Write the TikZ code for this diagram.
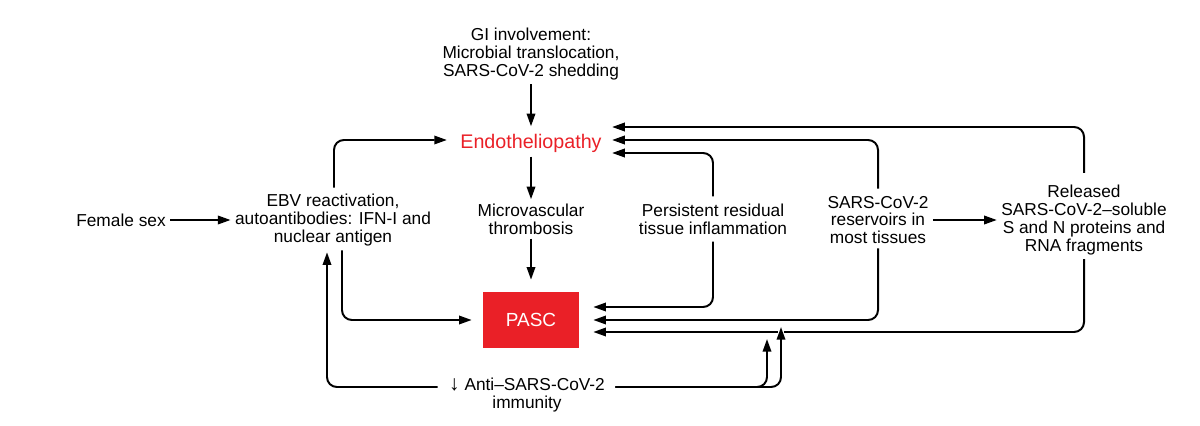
\documentclass[tikz,border=0pt]{standalone}
\usepackage{fontspec}
\setmainfont{Liberation Sans}
\usetikzlibrary{arrows.meta,calc}
\definecolor{pascred}{RGB}{234,32,39}

\begin{document}
\begin{tikzpicture}[x=0.025cm,y=-0.025cm,
  lbl/.style={align=center,font=\fontsize{12.3}{12.6}\selectfont,inner sep=3pt},
  arr/.style={-{Triangle[length=9pt,width=6pt]},line width=1.4pt,rounded corners=7pt}]
\useasboundingbox (0,0) rectangle (1200,426);

% Middle column
\node[lbl] (gi) at (531,54) {GI involvement:\\Microbial translocation,\\SARS-CoV-2 shedding};
\node[lbl,text=pascred,font=\fontsize{14}{16}\selectfont] (endo) at (531,143) {Endotheliopathy};
\node[lbl] (micro) at (531,219) {Microvascular\\thrombosis};
\node[fill=pascred,text=white,minimum width=2.4cm,minimum height=1.4cm,
  font=\fontsize{13.5}{14}\selectfont] (pasc) at (531,320) {PASC};

% Left side
\node[lbl] (female) at (121,220) {Female sex};
\node[lbl] (ebv) at (333,220) {EBV reactivation,\\autoantibodies: IFN-I and\\nuclear antigen};
\node[lbl] (imm) at (527,395) {{\fontsize{15}{15}\selectfont↓} Anti–SARS-CoV-2\\immunity};

% Right side
\node[lbl] (persist) at (713,219) {Persistent residual\\tissue inflammation};
\node[lbl] (reserv) at (878,220) {SARS-CoV-2\\reservoirs in\\most tissues};
\node[lbl] (released) at (1084,220) {Released\\SARS-CoV-2–soluble\\S and N proteins and\\RNA fragments};

% Free ends below PASC
\coordinate (upA) at (767,339);
\coordinate (upB) at (781,327);

% Arrows
\draw[arr] (gi) -- ($(endo.north)+(0,-3)$);
\draw[arr] (endo) -- (micro);
\draw[arr] (micro) -- ($(pasc.north)+(0,-12)$);
\draw[arr] (female) -- (ebv);
\draw[arr] ($(ebv.north)+(1,-2)$) |- ($(endo.west)+(-9,-3)$);
\draw[arr] ($(ebv.south)+(9,0)$) |- ($(pasc.west)+(-11,0)$);
\draw[arr] ($(imm.west)+(-7,-8)$) -| ($(ebv.south)+(-6,2)$);
\draw[arr] ($(persist.north)+(0,-3)$) |- ($(endo.east)+(6,10)$);
\draw[arr] ($(persist.south)+(0,3)$) |- ($(pasc.east)+(14,-13)$);
\draw[arr] ($(reserv.north)+(0,-3)$) |- ($(endo.east)+(6,-3)$);
\draw[arr] (reserv.south) |- ($(pasc.east)+(14,0)$);
\draw[arr] (reserv) -- (released);
\draw[arr] ($(released.north)+(0,-8)$) |- ($(endo.east)+(6,-16)$);
\draw[arr] (released.south) |- ($(pasc.east)+(14,12)$);
\draw[arr,preaction={draw=white,line width=4pt,-}] ($(imm.east)+(6,-8)$) -| (upB);
\draw[arr] ($(imm.east)+(6,-8)$) -| (upA);
\end{tikzpicture}
\end{document}
